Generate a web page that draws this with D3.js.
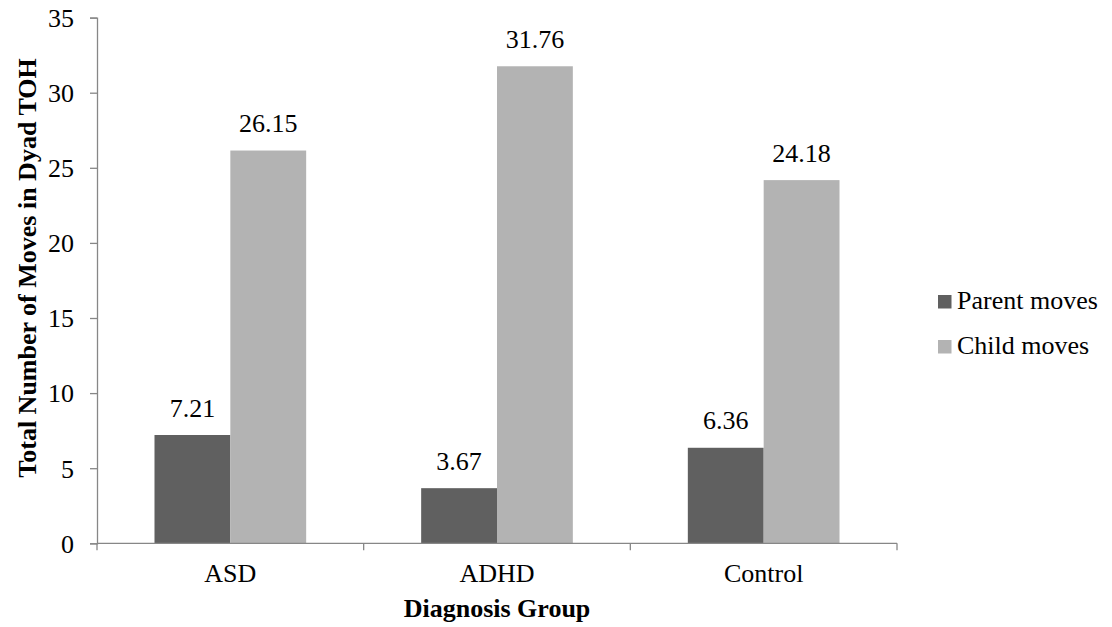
<!DOCTYPE html>
<html><head><meta charset="utf-8">
<script src="https://cdn.jsdelivr.net/npm/d3@7"></script>
<style>body{margin:0;background:#fff}</style>
</head><body><svg id="c" width="1112" height="627"></svg>
<script>
const categories = ["ASD", "ADHD", "Control"];
const seriesNames = ["Parent moves", "Child moves"];
const parentMoves = [7.21, 3.67, 6.36];
const childMoves = [26.15, 31.76, 24.18];
const yTicks = [0, 5, 10, 15, 20, 25, 30, 35];
const colors = ["#606060", "#b3b3b3"];

const FONT = "Liberation Serif";
const svg = d3.select("#c");
const L = 97, R = 897, T = 17.6, B = 543.3;
const axisColor = "#878787";
const fs = 26;

const y = d3.scaleLinear().domain([0, 35]).range([B, T]);
const x0 = d3.scaleBand().domain(categories).range([L, R]).padding(0);
const bw = x0.bandwidth();
const x1 = d3.scaleBand().domain(seriesNames).range([bw * 0.2156, bw * 0.7844]).padding(0);

const data = categories.map((c, i) => ({cat: c, vals: [parentMoves[i], childMoves[i]]}));

function txt(sel) { return sel.attr("font-family", FONT).attr("font-size", fs + "px").attr("fill", "#000"); }

// bars
const g = svg.append("g");
data.forEach(d => {
  d.vals.forEach((v, j) => {
    const bx = x0(d.cat) + x1(seriesNames[j]);
    g.append("rect").attr("x", bx).attr("y", y(v))
      .attr("width", x1.bandwidth()).attr("height", B - y(v))
      .attr("fill", colors[j]);
    txt(g.append("text")).attr("x", bx + x1.bandwidth() / 2).attr("y", y(v) - 18.5)
      .attr("text-anchor", "middle").text(v.toFixed(2));
  });
});

// y axis
const yAxis = d3.axisLeft(y).tickValues(yTicks).tickSize(7).tickPadding(16).tickFormat(d3.format("d"));
const ya = svg.append("g").attr("transform", `translate(${L},0)`).call(yAxis);
ya.attr("font-family", FONT).attr("font-size", fs);
ya.select(".domain").attr("stroke", axisColor).attr("stroke-width", 1.3);
ya.selectAll(".tick line").attr("stroke", axisColor).attr("stroke-width", 1.3);
txt(ya.selectAll(".tick text")).attr("dy", "0.34em");

// x axis
const xa = svg.append("g").attr("transform", `translate(0,${B})`);
xa.append("line").attr("x1", L).attr("x2", R).attr("y1", 0).attr("y2", 0)
  .attr("stroke", axisColor).attr("stroke-width", 1.3);
const bounds = categories.map(c => x0(c)).concat([R]);
xa.selectAll("line.bt").data(bounds).enter().append("line").attr("class", "bt")
  .attr("x1", d => d).attr("x2", d => d).attr("y1", 0).attr("y2", 7)
  .attr("stroke", axisColor).attr("stroke-width", 1.3);
txt(xa.selectAll("text.cl").data(categories).enter().append("text").attr("class", "cl"))
  .attr("x", d => x0(d) + bw / 2).attr("y", 39).attr("text-anchor", "middle").text(d => d);

// axis titles
txt(svg.append("text")).attr("x", (L + R) / 2).attr("y", 617).attr("text-anchor", "middle")
  .attr("font-weight", "bold").text("Diagnosis Group");
txt(svg.append("text")).attr("transform", `translate(36,268) rotate(-90)`).attr("text-anchor", "middle")
  .attr("font-weight", "bold").text("Total Number of Moves in Dyad TOH");

// legend
const lg = svg.append("g");
seriesNames.forEach((s, j) => {
  const ly = 295 + j * 45;
  lg.append("rect").attr("x", 938).attr("y", ly).attr("width", 13.5).attr("height", 13.5).attr("fill", colors[j]);
  txt(lg.append("text")).attr("x", 957).attr("y", ly + 14).text(s);
});
</script></body></html>
